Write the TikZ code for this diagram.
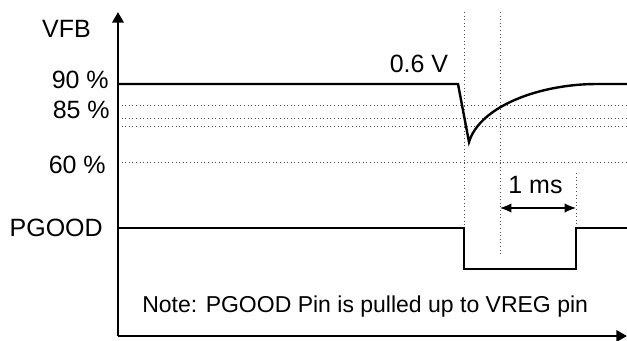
\documentclass[tikz,border=0pt]{standalone}
\usepackage{fontspec}
\setmainfont{Liberation Sans}
\usetikzlibrary{
  calc,
  arrows, arrows.meta,
}

\begin{document}
\begin{tikzpicture}[
    x=0.75pt, y=-0.75pt,
    axis/.style={line width=1.9pt, -{Triangle[length=8pt, width=8.5pt]}},
    wave/.style={line width=1.8pt},
    grid/.style={dotted, line width=0.7pt, black!70},
    dim/.style={line width=0.9pt, {Latex[length=8.5pt, width=7pt]}-{Latex[length=8.5pt, width=7pt]}},
    lab/.style={font=\fontsize{18.75}{20}\selectfont, inner sep=0pt},
    note/.style={font=\fontsize{17.25}{20}\selectfont, inner sep=0pt},
  ]
  \useasboundingbox (0,0) rectangle (627,340);
  % axes
  \coordinate (o) at (118,336);
  \coordinate (ytop) at (118,12);
  \coordinate (xend) at (627,336);
  % dotted levels
  \foreach \n/\y in {a/105, b/118, c/126, d/162} {
      \coordinate (l\n) at (118,\y);
      \coordinate (r\n) at (627,\y);
      \draw[grid] (l\n) -- (r\n);
    }
  % dotted time marks
  \foreach \n/\x/\ya/\yb in {a/464/12/228, b/500/12/256, c/576/173/228} {
      \coordinate (t\n) at (\x,\ya);
      \coordinate (b\n) at (\x,\yb);
      \draw[grid] (t\n) -- (b\n);
    }
  \draw[axis] (o) -- (ytop);
  \draw[axis] (o) -- (xend);
  % VFB waveform
  \coordinate (v0) at (118,84);
  \coordinate (v1) at (458,84);
  \coordinate (v2) at (469,142);
  \coordinate (v3) at (597,84);
  \coordinate (v4) at (627,84);
  \draw[wave] (v0) -- (v1) -- (v2) .. controls (480,106) and (540,84) .. (v3) -- (v4);
  % PGOOD waveform
  \coordinate (p0) at (118,228);
  \coordinate (p1) at (464,228);
  \coordinate (p2) at (464,269);
  \coordinate (p3) at (576,269);
  \coordinate (p4) at (576,228);
  \coordinate (p5) at (627,228);
  \draw[wave] (p0) -- (p1) -- (p2) -- (p3) -- (p4) -- (p5);
  % 1 ms
  \coordinate (d1) at (500,208);
  \coordinate (d2) at (576,208);
  \draw[dim] (d1) -- (d2);
  % labels
  \node[lab, anchor=base east] (vfb) at (91,37) {VFB};
  \node[lab, anchor=base east] (l90) at (109,88) {90 \%};
  \node[lab, anchor=base east] (l85) at (110,118) {85 \%};
  \node[lab, anchor=base east] (l60) at (106,173) {60 \%};
  \node[lab, anchor=base east] (pgood) at (103,236) {PGOOD};
  \node[lab, anchor=base] (vref) at (419,72) {0.6 V};
  \node[lab, anchor=base] (ms) at (535.5,193) {1 ms};
  \node[note, anchor=base west] (pull) at (142,312) {Note: PGOOD Pin is pulled up to VREG pin};
\end{tikzpicture}
\end{document}
